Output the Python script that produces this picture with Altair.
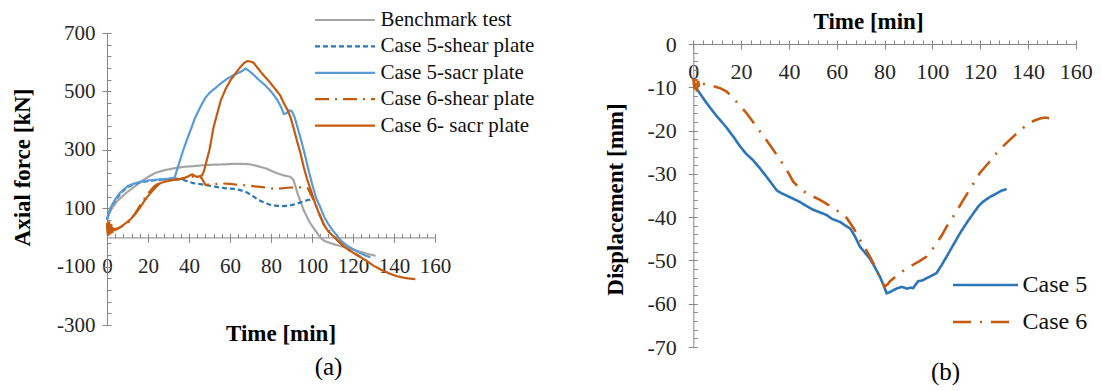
import altair as alt
import pandas as pd

# ---------------- Panel (a): axial force vs time ----------------
names_a = ["Benchmark test", "Case 5-shear plate", "Case 5-sacr plate",
           "Case 6-shear plate", "Case 6- sacr plate"]
colors_a = ["#A5A5A5", "#2E75B6", "#5B9BD5", "#C55A11", "#C55A11"]
dashes_a = [[1, 0], [5, 3], [1, 0], [14, 6, 2, 6], [1, 0]]

bench_t = [0, 2, 5, 9, 13, 17, 20, 24, 28, 33, 38, 42, 47, 52, 57, 62, 66, 70, 74, 78,
           82, 86, 89.5, 91, 93, 96, 99, 101, 104, 106, 110, 114, 119, 124, 128, 131]
bench_f = [65, 95, 125, 150, 172, 193, 207, 222, 230, 237, 242, 244, 247, 249, 250, 252, 252, 250, 243, 235,
           222, 213, 207, 196, 150, 92, 50, 30, 0, -12, -22, -30, -40, -50, -58, -63]

c5s_t = [0, 1, 2, 4, 6, 8, 10, 13, 16, 20, 25, 30, 34, 38, 42, 46, 50, 54, 58, 62, 65, 68,
         71, 74, 77, 80, 83, 86, 89, 92, 95, 98, 101]
c5s_f = [60, 85, 105, 127, 145, 160, 172, 182, 188, 193, 197, 200, 201, 195, 186, 182, 177, 172, 168, 166, 162, 155,
         142, 128, 118, 111, 108, 107, 109, 114, 121, 128, 132]

c5p_t = [0, 1, 2, 4, 6, 8, 10, 13, 16, 20, 25, 30, 33, 35, 37, 39, 41, 43, 45.5, 48, 50, 53, 56, 59,
         62, 64, 66, 67.5, 69, 71.5, 74, 77, 80, 83, 85, 86.2, 87.5, 89, 90.2, 91.5, 93, 94.5, 96, 98,
         100, 102, 104, 106, 108, 110, 112, 114, 117, 120, 123, 126, 128.5]
c5p_f = [60, 85, 105, 130, 150, 163, 175, 184, 190, 195, 198, 201, 205, 250, 295, 335, 372, 410, 446, 478, 495, 512, 530, 545,
         557, 563, 570, 578, 572, 557, 540, 522, 500, 472, 445, 423, 425, 435, 432, 412, 375, 338, 298, 240,
         184, 135, 104, 70, 45, 25, 8, -10, -28, -40, -52, -62, -68]

c6s_t = [0, 0.5, 1, 1.5, 2, 2.5, 3, 5, 8, 11, 14, 17, 20, 23, 26, 30, 34, 38, 41, 44, 46, 48,
         52, 56, 60, 64, 68, 72, 76, 80, 84, 88, 92, 96, 98, 101.6, 105.7, 110.6, 117, 123.6]
c6s_f = [50, 8, 55, 12, 45, 18, 28, 30, 40, 55, 85, 120, 150, 175, 188, 195, 198, 203, 208, 206, 205, 180,
         182, 185, 183, 180, 178, 175, 172, 168, 167, 170, 172, 171, 168, 115, 45, 3, -40, -67]

c6p_t = [0, 0.5, 1, 1.5, 2, 2.5, 3, 4, 6.5, 9, 11.5, 14, 16.3, 18.5, 21, 23.5, 26, 29, 32.5, 36,
         39, 41.5, 43.9, 46.3, 47.2, 48.5, 50, 52, 54, 55.5, 58, 60.2, 62.5, 65, 67, 68.5, 70, 71.5,
         73.5, 76.4, 79, 81.3, 83, 84.6, 86.2, 87.8, 89.5, 91, 92.7, 94.3, 96, 97.6, 99.5, 101.6,
         103.5, 105.7, 108, 110.6, 113.5, 117, 120, 123.6, 127, 130, 134, 138.2, 141.5, 144.7, 147.5, 150.4]
c6p_f = [50, 5, 55, 10, 45, 15, 30, 25, 35, 48, 62, 82, 104, 128, 150, 170, 186, 192, 197, 200,
         207, 216, 207, 212, 225, 260, 300, 378, 430, 469, 510, 538, 560, 583, 598, 604, 602, 598,
         580, 555, 535, 515, 500, 485, 460, 440, 412, 375, 330, 290, 240, 200, 160, 115,
         80, 45, 20, 3, -18, -38, -52, -67, -82, -97, -112, -125, -133, -138, -141, -143]

# ---------------- Panel (b): displacement vs time ----------------
names_b = ["Case 5", "Case 6"]
colors_b = ["#2E75B6", "#C55A11"]
dashes_b = [[1, 0], [18, 9, 2, 9]]

c5_t = [0, 1, 2, 3, 5, 7.7, 10, 13.9, 17, 19.5, 22, 25.1, 28, 30.7, 33, 34.9, 37, 39, 42, 44.6,
        47, 50.2, 53, 55.8, 58, 61.4, 63.5, 65.6, 67.5, 69.7, 71.8, 73.9, 76, 78.1, 79.5, 80.9,
        82.3, 84, 85.1, 87.2, 89.3, 91, 92, 93, 94.1, 96, 97.6, 99.5, 101.8, 104, 106, 108.8,
        111.6, 114.4, 117.2, 119.3, 121.3, 124, 126.9, 129, 131.1]
c5_d = [-9.8, -10.2, -10.8, -11.6, -13.2, -15.2, -16.8, -19.3, -21.6, -23.6, -25.3, -26.9, -28.8, -30.7, -32.4, -33.8, -34.5, -35.0, -35.8, -36.5,
        -37.3, -38.3, -38.9, -39.5, -40.4, -41.1, -41.9, -42.6, -44.3, -46.8, -48.2, -49.6, -51.6, -53.8, -55.6, -57.6,
        -57.3, -56.8, -56.5, -56.1, -56.5, -56.3, -56.4, -55.6, -54.8, -54.6, -54.1, -53.6, -52.9, -51.0, -49.1, -46.4,
        -43.7, -41.3, -39.1, -37.5, -36.4, -35.4, -34.5, -33.9, -33.5]

c6_t = [0, 0.5, 1, 1.5, 2, 2.5, 3, 4, 5.6, 8, 11.2, 14, 16.7, 19.5, 22.3, 25, 27.9, 30.7, 33.5, 35.5,
        37.7, 39.8, 41.8, 44.5, 47.4, 50, 53, 56, 58.6, 61.5, 64.2, 67, 69.7, 71.8, 73.9, 75.3, 76.7,
        78.8, 80.2, 81.3, 82.3, 84.5, 86.5, 89, 92, 94.8, 97.6, 99.7, 101.8, 104, 106, 109.5, 113,
        116.5, 119.9, 123.5, 126.9, 130.4, 133.9, 136.7, 139.5, 142.3, 145.1, 147.2, 149.2]
c6_d = [-8.0, -10.5, -7.5, -11.0, -8.5, -10.0, -8.8, -9.2, -9.4, -9.7, -10.2, -11.0, -12.5, -14.2, -16.0, -18.0, -20.2, -22.3, -24.5, -26.1,
        -27.9, -29.8, -31.8, -33.3, -34.5, -35.2, -36.0, -37.0, -37.9, -39.0, -40.2, -42.5, -45.2, -47.1, -49.1, -50.6, -52.2,
        -55.0, -56.0, -55.5, -54.8, -53.8, -52.9, -52.0, -51.0, -50.1, -49.1, -47.7, -46.0, -44.2, -42.2, -39.2, -36.0,
        -32.9, -29.8, -27.5, -25.2, -23.2, -21.4, -20.0, -18.7, -17.8, -17.2, -17.0, -17.2]


def long_frame(names, ts, vs):
    rows = []
    for name, tt, vv in zip(names, ts, vs):
        for i, (a, b) in enumerate(zip(tt, vv)):
            rows.append({"series": name, "t": a, "v": b, "i": i})
    return pd.DataFrame(rows)


df_a = long_frame(names_a, [bench_t, c5s_t, c5p_t, c6s_t, c6p_t],
                  [bench_f, c5s_f, c5p_f, c6s_f, c6p_f])
df_b = long_frame(names_b, [c5_t, c6_t], [c5_d, c6_d])

# ---------------- layout (pixels in the 1101 x 390 canvas) ----------------
W, H = 1101, 390
SERIF = "Liberation Serif"
AXC = "#868686"
LBL = "#262626"
HYPHEN_LABEL = "datum.value < 0 ? '-' + format(-datum.value, 'd') : format(datum.value, 'd')"

# panel (a)
A_X0, A_X1 = 107, 435
A_YT, A_YB = 33, 325
A_DOM_Y = [-300, 700]
A_Y0 = A_YT + (A_DOM_Y[1] - 0) / (A_DOM_Y[1] - A_DOM_Y[0]) * (A_YB - A_YT)

# panel (b)
B_X0, B_X1 = 693.3, 1075.7
B_YT, B_YB = 44, 347
B_DOM_Y = [-70, 0]
B_Y0 = B_YT

xa_scale = alt.Scale(domain=[0, 160], range=[A_X0, A_X1], nice=False, zero=False)
ya_scale = alt.Scale(domain=A_DOM_Y, range=[A_YB, A_YT], nice=False, zero=False)
xb_scale = alt.Scale(domain=[0, 160], range=[B_X0, B_X1], nice=False, zero=False)
yb_scale = alt.Scale(domain=B_DOM_Y, range=[B_YB, B_YT], nice=False, zero=False)

common_axis = dict(grid=False, domainColor=AXC, tickColor=AXC, domainWidth=1, tickWidth=1,
                   labelFont=SERIF, labelColor=LBL, labelOverlap=False, labelFlush=False,
                   titleFont=SERIF, titleColor="#000000")

# ---- panel (a) main layer
leg_a = alt.Legend(orient="none", legendX=313.5, legendY=10, title=None, direction="vertical",
                   symbolType="stroke", symbolSize=3600, symbolStrokeWidth=2.2,
                   labelFont=SERIF, labelFontSize=21, labelColor="#111111", labelLimit=400,
                   clipHeight=20, rowPadding=5.4, labelOffset=4, padding=0, offset=0)

lines_a = alt.Chart(df_a).mark_line(strokeWidth=2.2).encode(
    x=alt.X("t:Q", scale=xa_scale, axis=alt.Axis(
        orient="bottom", offset=A_Y0 - H, values=list(range(0, 161, 20)), tickSize=5,
        labelFontSize=21, labelBaseline="middle", labelPadding=24, labelAngle=0,
        labelExpr=HYPHEN_LABEL,
        title="Time [min]", titleFontSize=23, titleFontWeight="bold", titleX=280.5, titleY=96,
        titleAlign="center", titleBaseline="middle", **common_axis)),
    y=alt.Y("v:Q", scale=ya_scale, axis=alt.Axis(
        orient="left", offset=-A_X0, values=list(range(-300, 701, 200)), tickSize=5,
        labelFontSize=21, labelPadding=7, labelExpr=HYPHEN_LABEL,
        title="Axial force [kN]", titleFontSize=23, titleFontWeight="bold",
        titleX=22.5 - A_X0, titleY=167,
        titleAngle=-90, titleAlign="center", titleBaseline="middle", **common_axis)),
    color=alt.Color("series:N", scale=alt.Scale(domain=names_a, range=colors_a), legend=leg_a),
    strokeDash=alt.StrokeDash("series:N", scale=alt.Scale(domain=names_a, range=dashes_a), legend=leg_a),
    order=alt.Order("i:Q"),
)

# ---- panel (a) minor ticks layer (+ caption "(a)")
minor_a = alt.Chart(df_a).mark_point(opacity=0).encode(
    x=alt.X("t:Q", scale=xa_scale, axis=alt.Axis(
        orient="top", offset=-A_Y0, values=list(range(0, 161, 4)), tickSize=4,
        labels=False, domain=False, title="(a)", titleFontSize=25, titleFontWeight="normal",
        titleX=328, titleY=366 - A_Y0, titleAlign="center", titleBaseline="middle",
        **common_axis)),
    y=alt.Y("v:Q", scale=ya_scale, axis=alt.Axis(
        orient="right", offset=A_X0 - W, values=list(range(-300, 701, 40)), tickSize=4,
        labels=False, domain=False, title="", **common_axis)),
)

# ---- panel (b) main layer
leg_b = alt.Legend(orient="none", legendX=951.5, legendY=275, title=None, direction="vertical",
                   symbolType="stroke", symbolSize=4225, symbolStrokeWidth=2.6,
                   labelFont=SERIF, labelFontSize=24, labelColor="#111111", labelLimit=400,
                   clipHeight=20, rowPadding=13, labelOffset=3, padding=0, offset=0)

lines_b = alt.Chart(df_b).mark_line(strokeWidth=2.6).encode(
    x=alt.X("t:Q", scale=xb_scale, axis=alt.Axis(
        orient="bottom", offset=B_Y0 - H, values=list(range(0, 161, 20)), tickSize=5,
        labelFontSize=22, labelBaseline="middle", labelPadding=22, labelAngle=0,
        labelExpr=HYPHEN_LABEL,
        title="Time [min]", titleFontSize=23, titleFontWeight="bold", titleX=868, titleY=21.5 - B_Y0,
        titleAlign="center", titleBaseline="middle", **common_axis)),
    y=alt.Y("v:Q", scale=yb_scale, axis=alt.Axis(
        orient="left", offset=-B_X0, values=list(range(-70, 1, 10)), tickSize=5,
        labelFontSize=22, labelPadding=12, labelExpr=HYPHEN_LABEL,
        title="Displacement [mm]", titleFontSize=23, titleFontWeight="bold",
        titleX=615 - B_X0, titleY=199,
        titleAngle=-90, titleAlign="center", titleBaseline="middle", **common_axis)),
    color=alt.Color("series:N", scale=alt.Scale(domain=names_b, range=colors_b), legend=leg_b),
    strokeDash=alt.StrokeDash("series:N", scale=alt.Scale(domain=names_b, range=dashes_b), legend=leg_b),
    order=alt.Order("i:Q"),
)

# ---- panel (b) minor ticks layer (+ caption "(b)")
minor_b = alt.Chart(df_b).mark_point(opacity=0).encode(
    x=alt.X("t:Q", scale=xb_scale, axis=alt.Axis(
        orient="top", offset=-B_Y0, values=list(range(0, 161, 4)), tickSize=4,
        labels=False, domain=False, title="(b)", titleFontSize=25, titleFontWeight="normal",
        titleX=945, titleY=371 - B_Y0, titleAlign="center", titleBaseline="middle",
        **common_axis)),
    y=alt.Y("v:Q", scale=yb_scale, axis=alt.Axis(
        orient="right", offset=B_X0 - W, values=list(range(-70, 1, 2)), tickSize=4,
        labels=False, domain=False, title="", **common_axis)),
)

chart = alt.layer(lines_a, minor_a, lines_b, minor_b).resolve_scale(
    x="independent", y="independent", color="independent", strokeDash="independent"
).resolve_axis(
    x="independent", y="independent"
).resolve_legend(
    color="independent", strokeDash="independent"
).properties(
    width=W, height=H, padding=0, background="white",
    autosize=alt.AutoSizeParams(type="none"),
).configure_view(strokeWidth=0)

chart.save("out.html", embed_options={"renderer": "svg", "actions": False})
